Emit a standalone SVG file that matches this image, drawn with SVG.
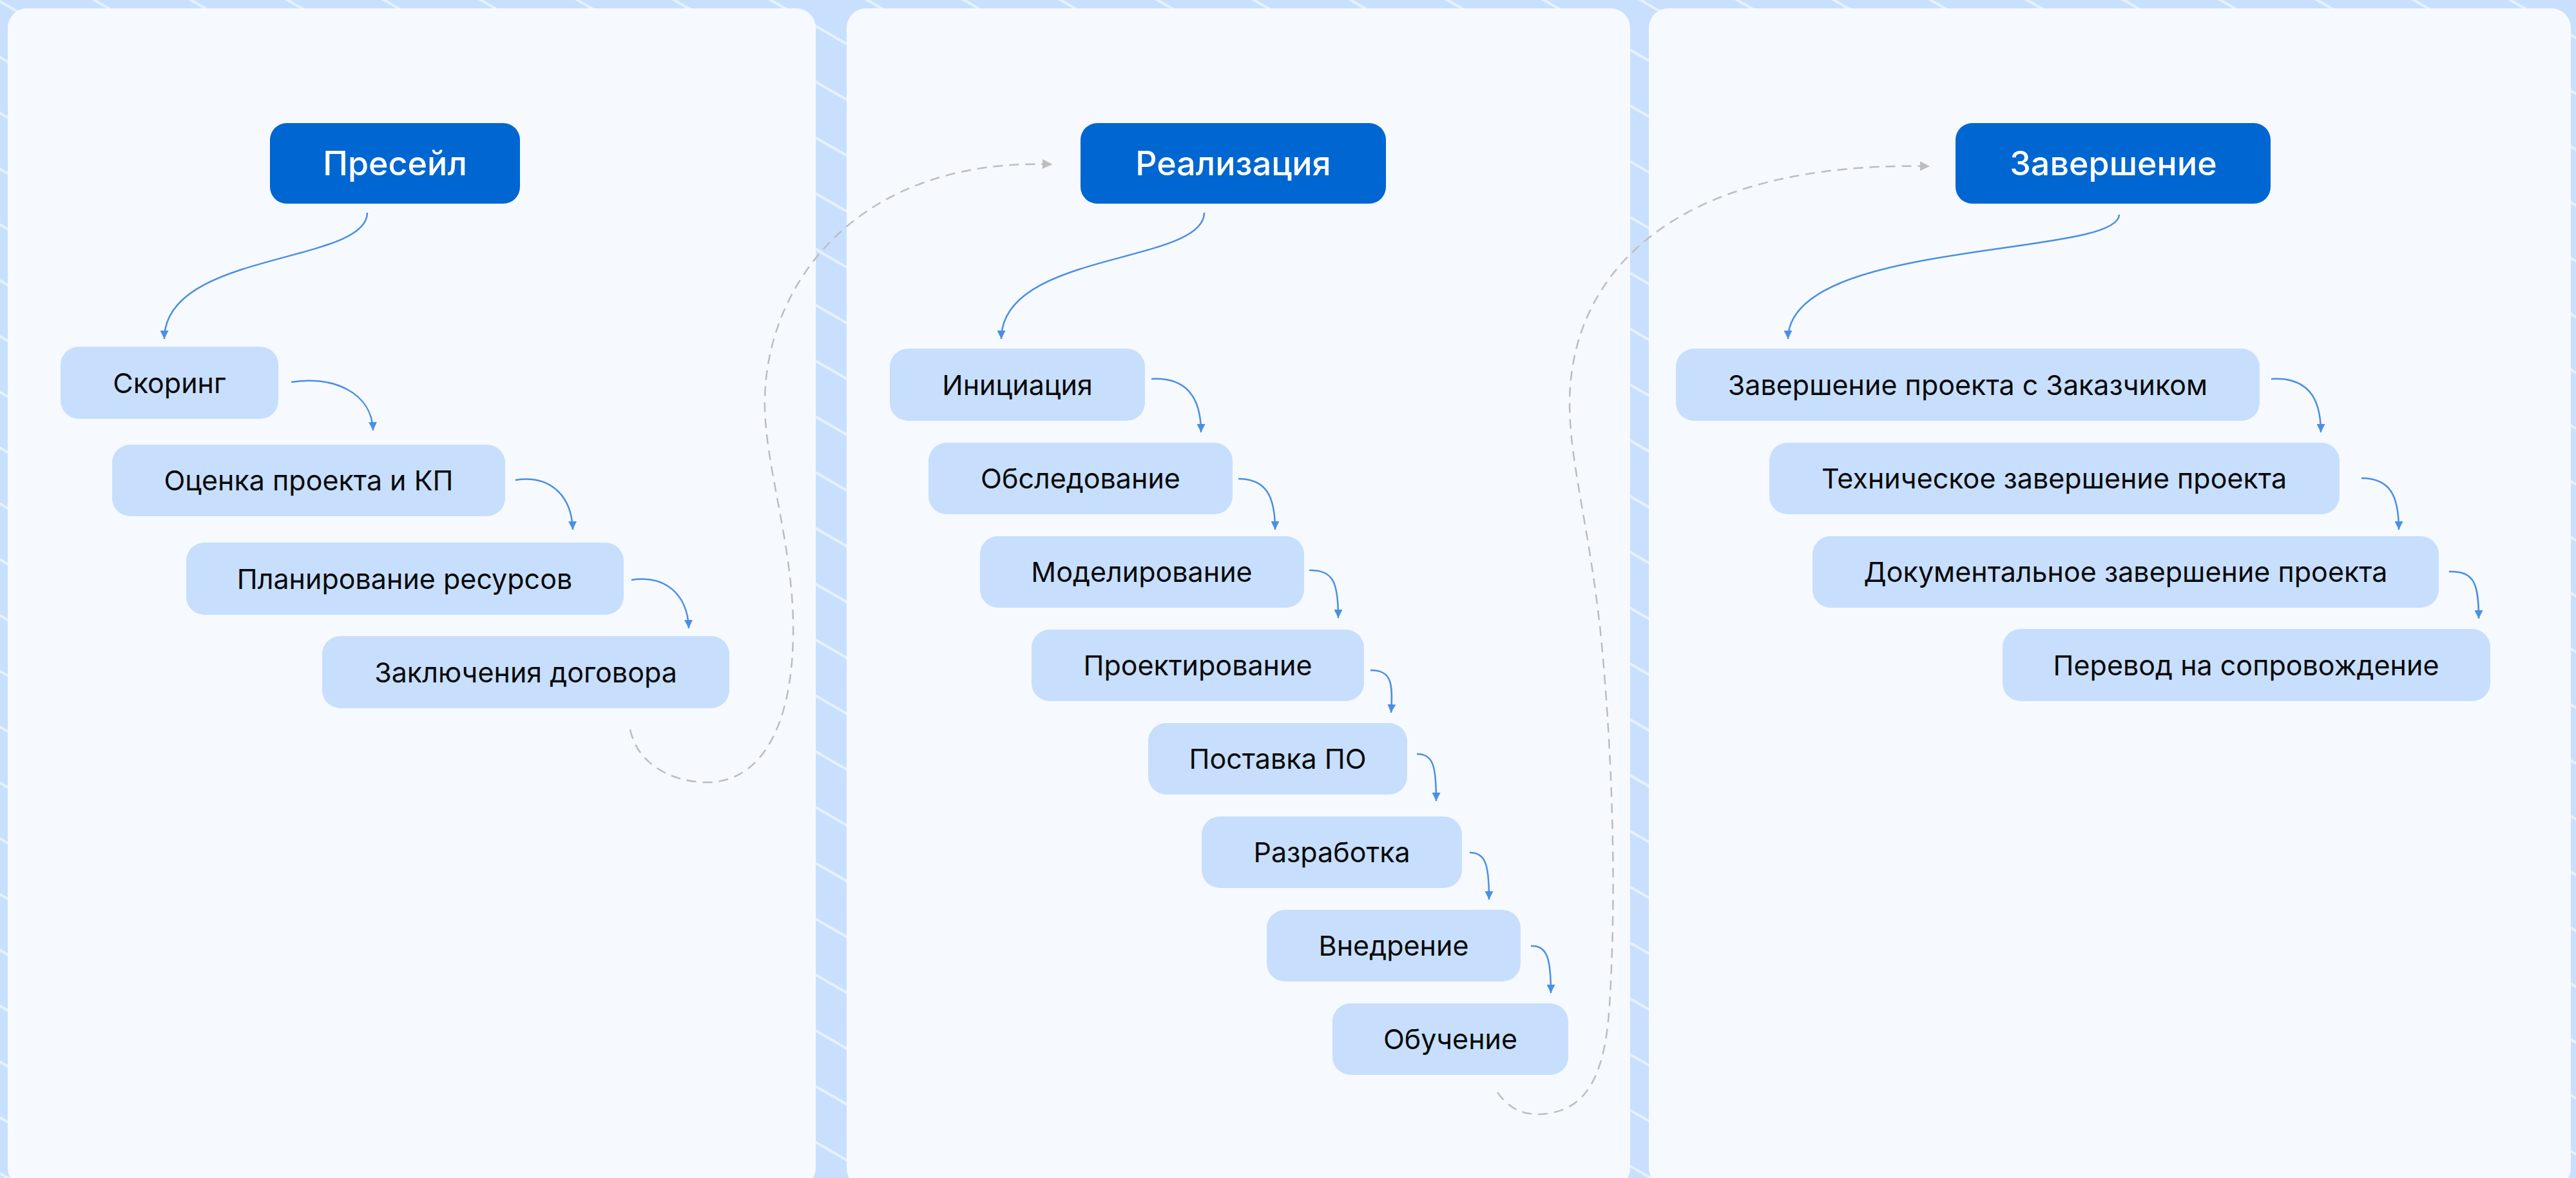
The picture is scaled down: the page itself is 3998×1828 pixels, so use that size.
<svg xmlns="http://www.w3.org/2000/svg" width="3998" height="1828" viewBox="0 0 3998 1828">
<style>
.panel{fill:#F6F9FE}
.hdr rect{fill:#0066D1}
.hdr text{fill:#FFFFFF;font-family:Inter,"Liberation Sans",sans-serif;font-size:52px;font-weight:500;text-anchor:middle}
.nd rect{fill:#C7DFFD}
.nd text{fill:#0A0A0A;font-family:Inter,"Liberation Sans",sans-serif;font-size:43px;font-weight:400;text-anchor:middle}
.flow{fill:none;stroke:#4A8FE3;stroke-width:2.5;marker-end:url(#ah)}
.jump{fill:none;stroke:#BDBDBD;stroke-width:2.5;stroke-dasharray:15 10;marker-end:url(#ahg)}
</style>
<defs>
<marker id="ah" viewBox="0 0 10 10" refX="10" refY="5" markerWidth="13" markerHeight="13" markerUnits="userSpaceOnUse" orient="auto"><path d="M0,0 L10,5 L0,10 Z" fill="#4A8FE3"/></marker>
<marker id="ahg" viewBox="0 0 10 10" refX="10" refY="5" markerWidth="15" markerHeight="15" markerUnits="userSpaceOnUse" orient="auto"><path d="M0,0 L10,5 L0,10 Z" fill="#BDBDBD"/></marker>
<pattern id="bgp" patternUnits="userSpaceOnUse" width="200" height="75" patternTransform="rotate(30)"><line x1="0" y1="2" x2="200" y2="2" stroke="#FFFFFF" stroke-opacity="0.55" stroke-width="4"/></pattern>
</defs>
<rect width="3998" height="1828" fill="#C8E0FD"/>
<rect width="3998" height="1828" fill="url(#bgp)"/>
<g id="panels">
<rect class="panel" x="12" y="13" width="1254" height="1830" rx="30"/>
<rect class="panel" x="1314" y="13" width="1216" height="1830" rx="30"/>
<rect class="panel" x="2559" y="13" width="1431" height="1830" rx="30"/>
</g>
<g id="connectors">
<path class="flow" d="M570,330 C570,410 255,390 255,526"/>
<path class="flow" d="M452,593 C520,583 577,610 579,668"/>
<path class="flow" d="M800,745 C850,737 887,765 889,822"/>
<path class="flow" d="M980,900 C1030,892 1067,920 1069,975"/>
<path class="flow" d="M1869,330 C1869,410 1554,390 1554,526"/>
<path class="flow" d="M1787,588 C1840,585 1864,615 1864,671"/>
<path class="flow" d="M1922,743 C1965,743 1979,770 1979,822"/>
<path class="flow" d="M2032,885 C2070,884 2077,905 2077,959"/>
<path class="flow" d="M2127,1040 C2160,1040 2162,1060 2159,1106"/>
<path class="flow" d="M2199,1170 C2225,1170 2229,1190 2229,1243"/>
<path class="flow" d="M2281,1323 C2307,1323 2311,1345 2311,1396"/>
<path class="flow" d="M2376,1468 C2402,1466 2407,1490 2407,1541"/>
<path class="flow" d="M3289,333 C3289,400 2775,370 2775,526"/>
<path class="flow" d="M3525,588 C3580,585 3602,615 3602,671"/>
<path class="flow" d="M3665,742 C3710,742 3723,770 3723,822"/>
<path class="flow" d="M3801,887 C3840,886 3847,905 3847,960"/>
<path class="jump" d="M978,1132 C990,1190 1050,1215 1100,1214 C1180,1212 1228,1130 1231,990 C1234,850 1185,720 1187,620 C1190,440 1330,245 1633,255"/>
<path class="jump" d="M2324,1695 C2345,1725 2370,1730 2392,1729 C2450,1725 2490,1690 2498,1560 C2508,1400 2505,1200 2485,990 C2465,800 2430,700 2437,600 C2450,420 2600,250 2995,258"/>
</g>
<g id="n-presale" class="hdr"><rect x="419" y="191" width="388" height="125" rx="26"/><text x="613" y="272">Пресейл</text></g>
<g id="n-scoring" class="nd"><rect x="94" y="538" width="338" height="112" rx="28"/><text x="263" y="610">Скоринг</text></g>
<g id="n-estimate" class="nd"><rect x="174" y="690" width="610" height="111" rx="28"/><text x="479" y="761">Оценка проекта и КП</text></g>
<g id="n-planning" class="nd"><rect x="289" y="842" width="679" height="112" rx="28"/><text x="628" y="914">Планирование ресурсов</text></g>
<g id="n-contract" class="nd"><rect x="500" y="987" width="632" height="112" rx="28"/><text x="816" y="1059">Заключения договора</text></g>
<g id="n-realization" class="hdr"><rect x="1677" y="191" width="474" height="125" rx="26"/><text x="1914" y="272">Реализация</text></g>
<g id="n-initiation" class="nd"><rect x="1381" y="541" width="396" height="112" rx="28"/><text x="1579" y="613">Инициация</text></g>
<g id="n-survey" class="nd"><rect x="1441" y="687" width="472" height="111" rx="28"/><text x="1677" y="758">Обследование</text></g>
<g id="n-modeling" class="nd"><rect x="1521" y="832" width="503" height="111" rx="28"/><text x="1772" y="903">Моделирование</text></g>
<g id="n-design" class="nd"><rect x="1601" y="977" width="516" height="111" rx="28"/><text x="1859" y="1048">Проектирование</text></g>
<g id="n-supply" class="nd"><rect x="1782" y="1122" width="402" height="111" rx="28"/><text x="1983" y="1193">Поставка ПО</text></g>
<g id="n-development" class="nd"><rect x="1865" y="1267" width="404" height="111" rx="28"/><text x="2067" y="1338">Разработка</text></g>
<g id="n-deployment" class="nd"><rect x="1966" y="1412" width="394" height="111" rx="28"/><text x="2163" y="1483">Внедрение</text></g>
<g id="n-training" class="nd"><rect x="2068" y="1557" width="366" height="111" rx="28"/><text x="2251" y="1628">Обучение</text></g>
<g id="n-completion" class="hdr"><rect x="3035" y="191" width="489" height="125" rx="26"/><text x="3280" y="272">Завершение</text></g>
<g id="n-customer" class="nd"><rect x="2601" y="541" width="906" height="112" rx="28"/><text x="3054" y="613">Завершение проекта с Заказчиком</text></g>
<g id="n-technical" class="nd"><rect x="2746" y="687" width="885" height="111" rx="28"/><text x="3188" y="758">Техническое завершение проекта</text></g>
<g id="n-documentary" class="nd"><rect x="2813" y="832" width="972" height="111" rx="28"/><text x="3299" y="903">Документальное завершение проекта</text></g>
<g id="n-support" class="nd"><rect x="3108" y="976" width="757" height="112" rx="28"/><text x="3486" y="1048">Перевод на сопровождение</text></g>
</svg>
